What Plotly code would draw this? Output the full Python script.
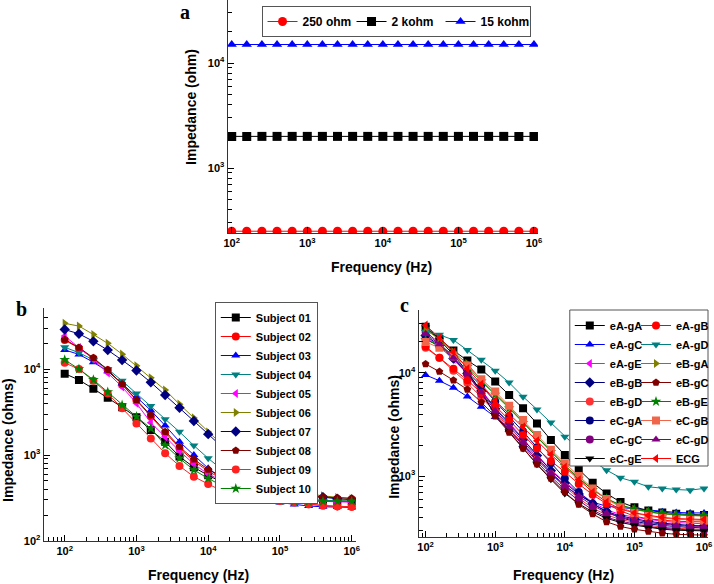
import plotly.graph_objects as go

freq = [100, 158, 251, 398, 631, 1000, 1585, 2512, 3981, 6310, 10000, 15849,
        25119, 39811, 63096, 100000, 158489, 251189, 398107, 630957, 1000000]

# Panel a: resistors
res_names = ["250 ohm", "2 kohm", "15 kohm"]
res_values = [250, 2000, 15000]

# Panel b: subjects
subj_names = ["Subject 01", "Subject 02", "Subject 03", "Subject 04", "Subject 05",
              "Subject 06", "Subject 07", "Subject 08", "Subject 09", "Subject 10"]
subj_01 = [8840, 7470, 5900, 4630, 3600, 2750, 1950, 1430, 960, 720, 580, 480, 410, 360, 330, 310, 300, 295, 292, 290, 290]
subj_02 = [21700, 17500, 13300, 9700, 6600, 4300, 2800, 1800, 1200, 850, 650, 520, 440, 385, 345, 310, 285, 268, 258, 252, 250]
subj_03 = [16700, 14800, 12000, 9400, 6800, 4700, 3300, 2200, 1430, 1000, 700, 520, 410, 340, 300, 280, 265, 255, 250, 248, 246]
subj_04 = [17900, 15500, 12800, 10000, 7300, 5200, 3720, 2600, 1860, 1290, 915, 670, 510, 420, 365, 330, 310, 300, 295, 292, 290]
subj_05 = [24200, 17800, 13000, 9000, 6200, 4000, 2380, 1630, 1115, 785, 600, 500, 430, 385, 350, 325, 305, 295, 288, 285, 283]
subj_06 = [34000, 31600, 25200, 19900, 14900, 10900, 7900, 5700, 3900, 2700, 1850, 1300, 950, 700, 540, 450, 395, 355, 335, 320, 310]
subj_07 = [28800, 25700, 21000, 16600, 12700, 9600, 7000, 5000, 3550, 2490, 1750, 1225, 900, 671, 528, 443, 387, 345, 324, 309, 303]
subj_08 = [22100, 17800, 13500, 9800, 6700, 4370, 2920, 1860, 1250, 890, 680, 560, 480, 430, 395, 370, 350, 335, 325, 318, 315]
subj_09 = [11800, 10000, 7300, 5200, 3500, 2330, 1560, 1050, 745, 560, 460, 380, 340, 318, 305, 292, 280, 268, 258, 252, 250]
subj_10 = [12800, 10000, 7500, 5400, 3800, 2790, 2040, 1300, 915, 670, 535, 436, 370, 335, 310, 297, 292, 290, 290, 290, 290]
subj_values = [subj_01, subj_02, subj_03, subj_04, subj_05, subj_06, subj_07, subj_08, subj_09, subj_10]

# Panel c: electrode combinations
eA_gA = [28000, 21500, 16500, 13200, 10800, 8240, 6110, 4540, 3240, 2240, 1600, 1160, 862, 678, 560, 500, 465, 445, 432, 425, 420]
eA_gB = [18000, 14000, 11000, 8500, 6400, 4800, 3500, 2500, 1850, 1400, 1100, 840, 660, 540, 460, 410, 385, 372, 365, 362, 360]
eA_gC = [9560, 8400, 7200, 5900, 4700, 3750, 2800, 2000, 1450, 1060, 800, 650, 560, 510, 495, 480, 465, 452, 445, 440, 440]
eA_gD = [25000, 23400, 20900, 16700, 13400, 10500, 8060, 5890, 4430, 3300, 2410, 1815, 1410, 1143, 963, 881, 788, 760, 741, 731, 760]
eA_gE = [22500, 18000, 13500, 9800, 6800, 4600, 3300, 2300, 1600, 1150, 880, 690, 560, 470, 425, 400, 380, 365, 355, 348, 345]
eB_gA = [26500, 21000, 16000, 12300, 8500, 6300, 4650, 3350, 2400, 1730, 1280, 960, 740, 600, 520, 475, 448, 430, 420, 414, 410]
eB_gB = [23000, 18500, 13800, 9900, 6700, 4500, 3200, 2250, 1580, 1130, 860, 670, 540, 455, 410, 385, 365, 350, 340, 333, 330]
eB_gC = [12200, 10300, 8500, 6900, 5200, 3800, 2650, 1850, 1300, 950, 700, 530, 430, 360, 325, 305, 290, 280, 273, 270, 268]
eB_gD = [17500, 14000, 10500, 8000, 5800, 4200, 2900, 2050, 1450, 1040, 790, 610, 490, 420, 380, 355, 335, 320, 312, 307, 305]
eB_gE = [21000, 18500, 15000, 11500, 8300, 6200, 4550, 3300, 2380, 1720, 1260, 950, 740, 605, 525, 480, 452, 434, 423, 418, 415]
eC_gA = [21500, 18000, 14000, 10200, 7500, 5300, 3800, 2700, 1900, 1330, 950, 700, 540, 450, 395, 365, 345, 332, 323, 318, 315]
eC_gB = [20000, 17500, 14500, 11800, 8700, 6600, 4800, 3500, 2500, 1800, 1330, 1000, 760, 600, 500, 440, 410, 392, 382, 376, 372]
eC_gC = [25000, 19500, 14200, 9700, 6300, 4000, 2800, 1950, 1380, 990, 740, 580, 470, 400, 365, 345, 325, 312, 305, 301, 300]
eC_gD = [24000, 19000, 14000, 9800, 6500, 4300, 3050, 2150, 1500, 1080, 820, 640, 520, 440, 400, 375, 355, 342, 333, 327, 325]
eC_gE = [27500, 21000, 15000, 10300, 6600, 3900, 2700, 1850, 1300, 930, 680, 540, 450, 390, 355, 335, 318, 306, 299, 296, 295]
ECG = [29000, 22000, 16000, 11000, 7800, 5400, 4000, 3000, 2200, 1620, 1220, 920, 700, 560, 480, 440, 415, 398, 388, 382, 380]

elec_left_names = ["eA-gA", "eA-gC", "eA-gE", "eB-gB", "eB-gD", "eC-gA", "eC-gC", "eC-gE"]
elec_left_values = [eA_gA, eA_gC, eA_gE, eB_gB, eB_gD, eC_gA, eC_gC, eC_gE]
elec_right_names = ["eA-gB", "eA-gD", "eB-gA", "eB-gC", "eB-gE", "eC-gB", "eC-gD", "ECG"]
elec_right_values = [eA_gB, eA_gD, eB_gA, eB_gC, eB_gE, eC_gB, eC_gD, ECG]

# Styles
res_style = [("#FF0000", "circle"), ("#000000", "square"), ("#0000FF", "triangle-up")]
subj_style = [("#000000", "square"), ("#FF0000", "circle"), ("#0000FF", "triangle-up"),
              ("#008080", "triangle-down"), ("#FF00FF", "triangle-left"), ("#808000", "triangle-right"),
              ("#000080", "diamond"), ("#800000", "pentagon"), ("#FF2020", "circle"), ("#008000", "star")]
left_style = [("#000000", "square"), ("#0000FF", "triangle-up"), ("#FF00FF", "triangle-left"),
              ("#000080", "diamond"), ("#FF3333", "circle"), ("#000080", "circle"),
              ("#800080", "circle"), ("#000000", "triangle-down")]
right_style = [("#FF0000", "circle"), ("#008080", "triangle-down"), ("#808000", "triangle-right"),
               ("#800000", "pentagon"), ("#008000", "star"), ("#F0664A", "square"),
               ("#800080", "triangle-up"), ("#FF0000", "triangle-left")]

FONT = "Liberation Sans"
fig = go.Figure()


def add(x, y, name, color, symbol, xa, ya, legend, size=8):
    fig.add_trace(go.Scatter(
        x=x, y=y, name=name, mode="lines+markers", xaxis=xa, yaxis=ya, legend=legend,
        line=dict(color=color, width=1),
        marker=dict(color=color, symbol=symbol, size=size, line=dict(width=0)),
    ))


for name, v, (c, s) in zip(res_names, res_values, res_style):
    add(freq, [v] * len(freq), name, c, s, "x", "y", "legend", 9)
for name, v, (c, s) in zip(subj_names, subj_values, subj_style):
    add(freq, v, name, c, s, "x2", "y2", "legend2", 8)
for name, v, (c, s) in zip(elec_left_names, elec_left_values, left_style):
    add(freq, v, name, c, s, "x3", "y3", "legend3", 8)
for name, v, (c, s) in zip(elec_right_names, elec_right_values, right_style):
    add(freq, v, name, c, s, "x3", "y3", "legend4", 8)

W, H = 714, 584


def px_x(p):
    return p / W


def px_y(p):
    return 1 - p / H


def pw(e):
    return "10<sup>%d</sup>" % e


tickfont = dict(family=FONT, size=11, color="black", weight="bold")
titlefont = dict(family=FONT, size=14, color="black", weight="bold")
minor = dict(dtick="D1", ticks="inside", ticklen=4, tickcolor="black",
             tickwidth=1, showgrid=False)


def axis(dom, rng, anchor, tv, with_minor):
    d = dict(
        type="log", domain=dom, range=rng, anchor=anchor, automargin=False,
        showline=True, linecolor="#333333", linewidth=1.3, mirror=False,
        ticks="inside", ticklen=6, tickcolor="black", tickwidth=1.3,
        tickmode="array", tickvals=[10 ** e for e in tv], ticktext=[pw(e) for e in tv],
        tickfont=tickfont, showgrid=False, zeroline=False,
    )
    if with_minor:
        d["minor"] = minor
    return d


decades_x = [2, 3, 4, 5, 6]
xa = axis([px_x(229), px_x(541)], [1.947, 6.053], "y", decades_x, False)
xb = axis([px_x(44), px_x(358)], [1.708, 6.06], "y2", decades_x, True)
xc = axis([px_x(421), px_x(712)], [1.9, 6.057], "y3", decades_x, True)

ya = axis([px_y(233), 1.0], [2.381, 4.6], "x", [3, 4], True)
yb = axis([px_y(541), px_y(308)], [2.0, 4.71], "x2", [2, 3, 4], True)
yc = axis([px_y(537), px_y(310)], [2.41, 4.61], "x3", [3, 4], True)

legfont = dict(family=FONT, size=12, color="black", weight="bold")
legfont_s = dict(family=FONT, size=11, color="black", weight="bold")
letter = dict(family="Liberation Serif", size=20, color="black")


def ann(text, x, y, font, angle=0):
    return dict(text=text, x=px_x(x), y=px_y(y), xref="paper", yref="paper",
                xanchor="center", yanchor="middle", showarrow=False, font=font,
                textangle=angle)


fig.update_layout(
    width=W, height=H,
    margin=dict(l=0, r=0, t=0, b=0),
    paper_bgcolor="white", plot_bgcolor="white",
    xaxis=xa, yaxis=ya, xaxis2=xb, yaxis2=yb, xaxis3=xc, yaxis3=yc,
    legend=dict(orientation="h", x=px_x(263), y=px_y(6), xanchor="left", yanchor="top",
                bordercolor="#555", borderwidth=1, font=legfont, bgcolor="white",
                itemwidth=30, tracegroupgap=0, entrywidth=44, entrywidthmode="pixels"),
    legend2=dict(x=px_x(216), y=px_y(302), xanchor="left", yanchor="top",
                 bordercolor="#555", borderwidth=1, font=legfont_s, bgcolor="white",
                 tracegroupgap=0),
    legend3=dict(x=px_x(573), y=px_y(311), xanchor="left", yanchor="top",
                 font=legfont_s, bgcolor="rgba(0,0,0,0)", tracegroupgap=0),
    legend4=dict(x=px_x(640), y=px_y(311), xanchor="left", yanchor="top",
                 font=legfont_s, bgcolor="rgba(0,0,0,0)", tracegroupgap=0),
    showlegend=True,
    hovermode=False,
    annotations=[
        ann("<b>a</b>", 186, 12, letter),
        ann("<b>b</b>", 22, 309, letter),
        ann("<b>c</b>", 407, 305, letter),
        ann("Frequency (Hz)", 384, 267, titlefont),
        ann("Impedance (ohm)", 192, 107, titlefont, -90),
        ann("Frequency (Hz)", 200, 575, titlefont),
        ann("Impedance (ohms)", 8, 440, titlefont, -90),
        ann("Frequency (Hz)", 567, 575, titlefont),
        ann("Impedance (ohms)", 396, 437, titlefont, -90),
    ],
    shapes=[
        dict(type="rect", xref="paper", yref="paper", x0=px_x(573), x1=px_x(712),
             y0=px_y(466), y1=px_y(310), line=dict(color="#555", width=1),
             fillcolor="white", layer="above", opacity=1),
    ],
)

fig.write_html("out.html", post_script="document.body.style.margin='0';",
               config={"displayModeBar": False})
